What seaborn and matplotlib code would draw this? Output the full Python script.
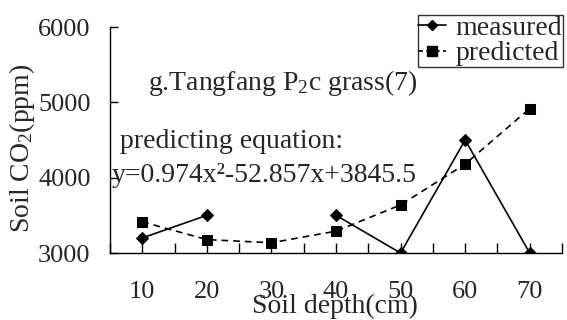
import numpy as np
import pandas as pd
import matplotlib
matplotlib.use("Agg")
import matplotlib.pyplot as plt
import seaborn as sns
from matplotlib.lines import Line2D

# ---- data ----
depth = [10, 20, 30, 40, 50, 60, 70]
measured = [3200, 3500, np.nan, 3500, 3000, 4500, 3000]
predicted = [3414, 3178, 3136, 3290, 3638, 4180, 4918]
xticks = [10, 20, 30, 40, 50, 60, 70]
yticks = [3000, 4000, 5000, 6000]

sns.set_theme(style="white")
plt.rcParams["font.family"] = ["Liberation Serif", "DejaVu Serif"]
plt.rcParams["mathtext.fontset"] = "custom"
plt.rcParams["mathtext.rm"] = "Liberation Serif"
plt.rcParams["mathtext.it"] = "Liberation Serif"

FS = 19
FT = 20

fig = plt.figure(figsize=(5.67, 3.2), dpi=100)
W, H = 567, 320
ax = fig.add_axes([110 / W, (H - 253) / H, (562 - 110) / W, (253 - 27) / H])

# measured segments split at missing values
m = np.array(measured, dtype=float)
seg = np.cumsum(np.isnan(m))
dfm = pd.DataFrame({"depth": depth, "val": m, "seg": seg}).dropna()
sns.lineplot(data=dfm, x="depth", y="val", units="seg", estimator=None,
             color="black", lw=1.2, marker="D", markersize=6,
             markeredgecolor="black", ax=ax)

dfp = pd.DataFrame({"depth": depth, "val": predicted})
sns.lineplot(data=dfp, x="depth", y="val", color="black", lw=1.2,
             linestyle=(0, (4, 3)), marker="s", markersize=7.5,
             markeredgecolor="black", ax=ax)

ax.set_xlim(5, 75)
ax.set_ylim(3000, 6000)
ax.set_xticks(np.arange(5, 76, 5), minor=False)
ax.set_xticklabels([str(t) if t in xticks else "" for t in np.arange(5, 76, 5)])
ax.set_yticks(yticks)
ax.tick_params(axis="x", direction="in", length=7, width=1, color="black",
               labelsize=FS, pad=20, bottom=True)
ax.tick_params(axis="y", direction="in", length=6, width=1, color="black",
               labelsize=FS, pad=14, left=True)
for s in ["top", "right"]:
    ax.spines[s].set_visible(False)
for s in ["left", "bottom"]:
    ax.spines[s].set_color("black")
    ax.spines[s].set_linewidth(1)
ax.set_xlabel("")
ax.set_ylabel("")

fig.text(335 / W, 1 - 306 / H, "Soil depth(cm)", ha="center", va="center",
         fontsize=FT)
fig.text(22 / W, 1 - 148 / H, "Soil CO$_2$(ppm)", ha="center", va="center",
         rotation=90, fontsize=FT)

fig.text(148 / W, 1 - 83 / H, "g.Tangfang P$_2$c grass(7)", ha="left",
         va="center", fontsize=FT)
fig.text(120 / W, 1 - 141 / H, "predicting equation:", ha="left",
         va="center", fontsize=FT)
fig.text(112 / W, 1 - 176 / H, "y=0.974x²-52.857x+3845.5", ha="left",
         va="center", fontsize=FT)

handles = [
    Line2D([], [], color="black", lw=1.2, marker="D", markersize=5),
    Line2D([], [], color="black", lw=1.2, linestyle=(0, (3, 2)),
           marker="s", markersize=7),
]
leg = fig.legend(handles, ["measured", "predicted"], loc="upper right",
                 bbox_to_anchor=(563 / W, 1 - 15 / H), fontsize=FT,
                 frameon=True, fancybox=False, borderpad=0.02,
                 labelspacing=0.0, handlelength=1.0, handletextpad=0.35,
                 borderaxespad=0)
leg.get_frame().set_edgecolor("black")
leg.get_frame().set_linewidth(1)

fig.savefig("out.png", dpi=100)
